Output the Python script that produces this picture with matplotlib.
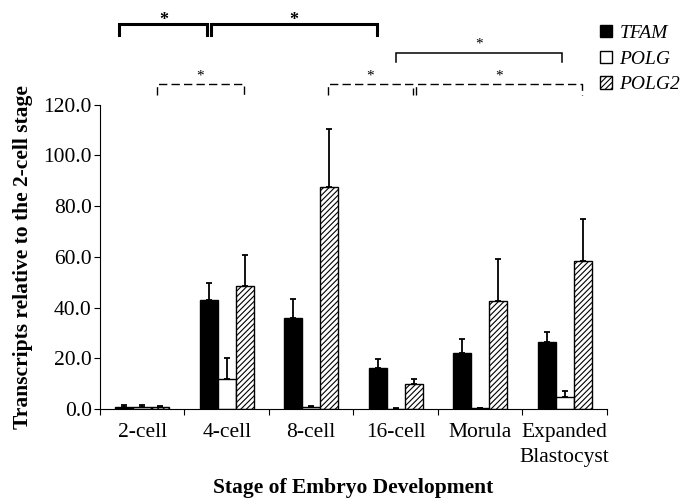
import matplotlib
matplotlib.use('Agg')
import matplotlib.pyplot as plt
import numpy as np

stages = ['2-cell', '4-cell', '8-cell', '16-cell', 'Morula', 'Expanded\nBlastocyst']
genes = ['TFAM', 'POLG', 'POLG2']

tfam = [0.9, 42.8, 35.8, 16.1, 22.2, 26.6]
tfam_err = [0.7, 6.7, 7.6, 3.6, 5.2, 3.7]
polg = [0.7, 11.8, 0.9, 0.1, 0.3, 4.6]
polg_err = [0.9, 8.5, 0.3, 0.1, 0.2, 2.5]
polg2 = [0.9, 48.4, 87.6, 9.7, 42.6, 58.4]
polg2_err = [0.3, 12.4, 22.7, 2.0, 16.6, 16.4]

yticks = [0, 20, 40, 60, 80, 100, 120]

plt.rcParams['font.family'] = 'Liberation Serif'
plt.rcParams['hatch.linewidth'] = 0.8

fig = plt.figure(figsize=(6.82, 4.98), dpi=100)
ax = fig.add_axes([0.1466, 0.1787, 0.7434, 0.6114])

x = np.arange(len(stages))
w = 0.213
styles = [dict(color='black', edgecolor='black'),
          dict(color='white', edgecolor='black'),
          dict(color='white', edgecolor='black', hatch='//////')]
series = [(tfam, tfam_err), (polg, polg_err), (polg2, polg2_err)]

for i, (vals, errs) in enumerate(series):
    pos = x + (i - 1) * w
    ax.bar(pos, vals, width=w, linewidth=1, label=genes[i], zorder=2, **styles[i])
    ax.errorbar(pos, vals, yerr=[np.zeros(len(errs)), errs], fmt='none',
                ecolor='black', elinewidth=1.3, capsize=2.5, capthick=1.3, zorder=1)

ax.set_xlim(-0.5, 5.5)
ax.set_ylim(0, 120)
ax.spines['top'].set_visible(False)
ax.spines['right'].set_visible(False)
ax.set_xticks(np.arange(-0.5, 6, 1))
ax.set_xticklabels([])
ax.set_xticks(x, minor=True)
ax.set_xticklabels(stages, minor=True, fontsize=15.5, linespacing=1.45)
ax.tick_params(axis='x', which='minor', length=0, pad=10)
ax.tick_params(axis='x', which='major', length=4, direction='out')
ax.set_yticks(yticks)
ax.set_yticklabels(['%.1f' % v for v in yticks], fontsize=15.5)
ax.tick_params(axis='y', length=4, direction='out', pad=2)

ax.set_ylabel('Transcripts relative to the 2-cell stage', fontsize=15.5,
              fontweight='bold', labelpad=7)
ax.set_xlabel('Stage of Embryo Development', fontsize=15.5, fontweight='bold')
ax.xaxis.set_label_coords(0.5, -0.228)

# significance brackets (data coords above the axes)
def bracket(x1, x2, y, h, lw, ls='-', star_size=10, star_bold=False, star_dy=3.5):
    ax.plot([x1, x1, x2, x2], [y - h, y, y, y - h], color='black', lw=lw,
            linestyle=ls, clip_on=False, solid_joinstyle='miter')
    ax.text((x1 + x2) / 2, y + star_dy, '*', ha='center', va='center',
            fontsize=star_size, fontweight='bold' if star_bold else 'normal',
            color='black', clip_on=False)

dash = (0, (6, 3))
bracket(-0.27, 0.77, 151.6, 4.3, 2.2, star_size=13, star_bold=True, star_dy=1.6)
bracket(0.81, 2.78, 151.6, 4.3, 2.2, star_size=13, star_bold=True, star_dy=1.6)
bracket(3.0, 4.97, 140.5, 3.9, 1.1, star_size=11, star_dy=3.4)
bracket(0.17, 1.2, 127.9, 4.3, 1.0, ls=dash, star_size=11, star_dy=3.4)
bracket(2.2, 3.2, 127.9, 4.3, 1.0, ls=dash, star_size=11, star_dy=3.4)
bracket(3.24, 5.2, 127.9, 4.3, 1.0, ls=dash, star_size=11, star_dy=3.4)

leg = fig.legend(loc='upper left', bbox_to_anchor=(0.88, 0.95), frameon=False,
                 prop={'family': 'Liberation Serif', 'style': 'italic', 'size': 14},
                 handlelength=0.6, handleheight=0.6, handletextpad=0.4,
                 labelspacing=0.45, borderpad=0, borderaxespad=0)

fig.savefig('out.png', dpi=100)
